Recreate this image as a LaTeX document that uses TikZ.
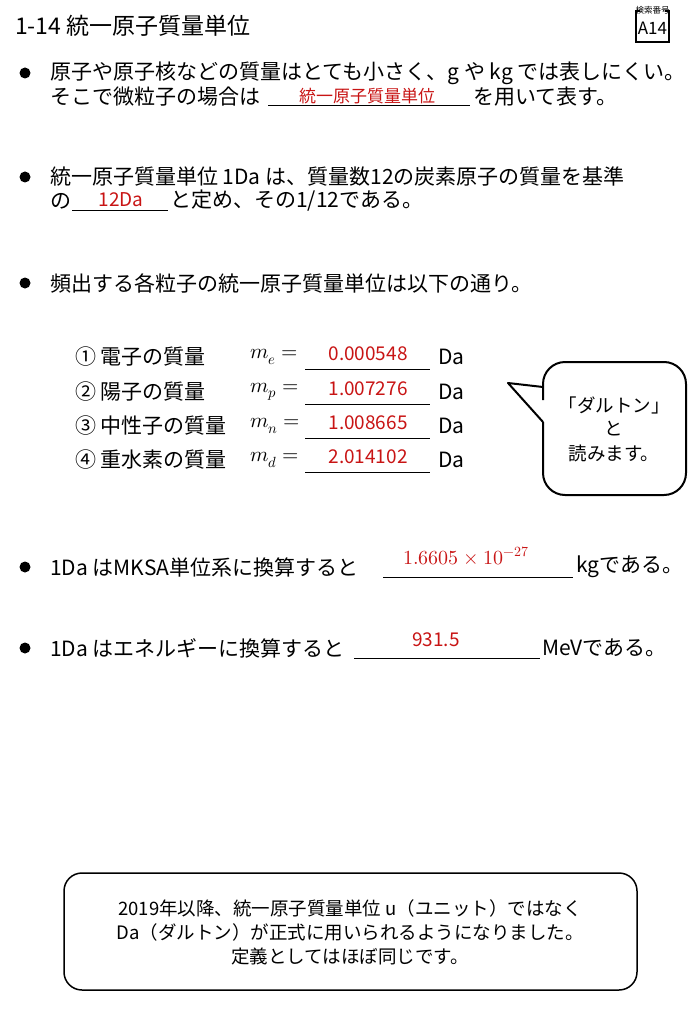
\documentclass[tikz,border=0pt]{standalone}
\usepackage{fontspec}
\usepackage{unicode-math}
\setmainfont{Noto Sans CJK JP}
\setmathfont{Latin Modern Math}
\usetikzlibrary{positioning}
\definecolor{ansred}{RGB}{200,20,20}
\tikzset{
  txt/.style={anchor=west,inner sep=0pt,font=\fontsize{21}{24}\selectfont},
  ans/.style={inner sep=0pt,text=ansred,font=\fontsize{19}{21}\selectfont},
  blank/.style={line width=0.8pt},
  bullet/.style={circle,fill=black,inner sep=0pt,minimum size=11pt},
  note/.style={inner sep=0pt,font=\fontsize{18.5}{21}\selectfont}
}
\begin{document}
\begin{tikzpicture}[x=1pt,y=-1pt]
\useasboundingbox (0,0) rectangle (698,1024);
% title and index box
\node[txt,font=\fontsize{23}{25}\selectfont] (title) at (15,26) {1-14 統一原子質量単位};
\draw[line width=2pt] (640,11) -- (636,11) -- (636,42) -- (669,42) -- (669,11) -- (665,11);
\node[inner sep=0pt,font=\fontsize{8.5}{10}\selectfont] (idx) at (652.5,10) {検索番号};
\node[inner sep=0pt,font=\fontsize{17}{18}\selectfont] (code) at (652.5,28) {A14};
% bullet 1
\node[bullet] (b1) at (25,73) {};
\node[txt] (l1a) at (50,73) {原子や原子核などの質量はとても小さく、g や kg では表しにくい。};
\node[txt] (l1b) at (50,97) {そこで微粒子の場合は};
\draw[blank] (268,105) -- (470,105);
\node[ans,font=\fontsize{17}{19}\selectfont] (a1) at (367,96) {統一原子質量単位};
\node[txt] (l1c) at (473,97) {を用いて表す。};
% bullet 2
\node[bullet] (b2) at (25,177) {};
\node[txt] (l2a) at (50,177) {統一原子質量単位 1Da は、質量数12の炭素原子の質量を基準};
\node[txt] (l2b) at (50,201) {の};
\draw[blank] (72,210) -- (168,210);
\node[ans] (a2) at (121,200) {12Da};
\node[txt] (l2c) at (170,201) {と定め、その1/12である。};
% bullet 3
\node[bullet] (b3) at (25,283) {};
\node[txt] (l3) at (50,283) {頻出する各粒子の統一原子質量単位は以下の通り。};
% list
\foreach \y/\lab/\sym/\val in {357/①~電子の質量/e/0.000548, 392/②~陽子の質量/p/1.007276,
  426/③~中性子の質量/n/1.008665, 460/④~重水素の質量/d/2.014102}{
  \node[txt] at (75,\y) {\lab};
  \node[txt] at (250,\y) {$m_{\sym}=$};
  \draw[blank] (305,\y+12) -- (430,\y+12);
  \node[ans] at (368,\y-3) {\val};
  \node[txt] at (438,\y) {Da};
}
% callout
\draw[line width=2pt,rounded corners=22pt] (543,400) -- (543,362) -- (686,362) -- (686,495) -- (543,495) -- (543,422);
\draw[line width=2pt,line join=round] (543,422) -- (508,383) -- (543,387);
\node[note] (c1) at (614,405) {「ダルトン」};
\node[note] (c2) at (614,429) {と};
\node[note] (c3) at (614,453) {読みます。};
% bullet 4
\node[bullet] (b4) at (25,567) {};
\node[txt] (l4a) at (50,567) {1Da はMKSA単位系に換算すると};
\draw[blank] (383,577) -- (573,577);
\node[ans,font=\fontsize{20}{22}\selectfont] (a4) at (466,556) {$1.6605\times10^{-27}$};
\node[txt] (l4b) at (576,567) {kgである。};
% bullet 5
\node[bullet] (b5) at (25,648) {};
\node[txt] (l5a) at (50,648) {1Da はエネルギーに換算すると};
\draw[blank] (354,658) -- (540,658);
\node[ans] (a5) at (436,640) {931.5};
\node[txt] (l5b) at (542,648) {MeVである。};
% bottom note
\draw[line width=1.5pt,rounded corners=18pt] (64,873) rectangle (637,990);
\node[note] (n1) at (350,908) {2019年以降、統一原子質量単位 u（ユニット）ではなく};
\node[note] (n2) at (350,932) {Da（ダルトン）が正式に用いられるようになりました。};
\node[note] (n3) at (350,956) {定義としてはほぼ同じです。};
\end{tikzpicture}
\end{document}
